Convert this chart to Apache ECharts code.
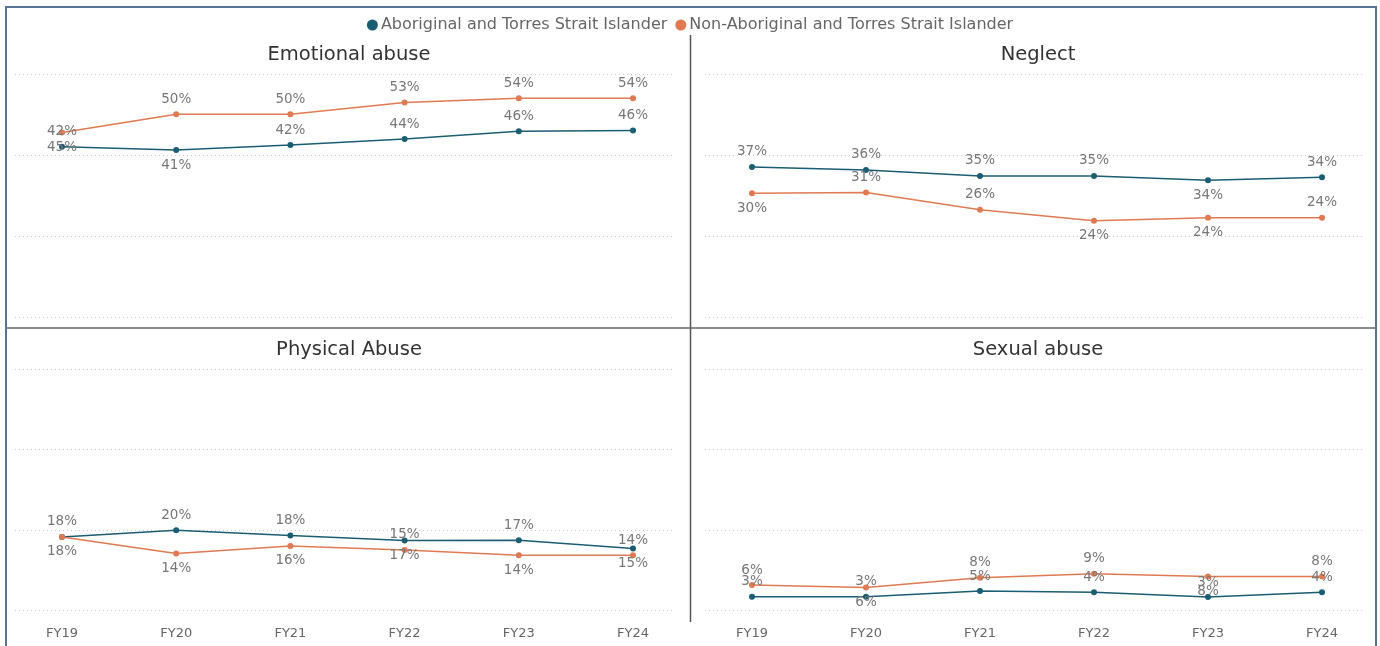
<!DOCTYPE html>
<html>
<head>
<meta charset="utf-8">
<script src="https://cdn.jsdelivr.net/npm/echarts@6/dist/echarts.min.js"></script>
<style>
  html, body { margin: 0; padding: 0; background: #ffffff; }
  #chart { width: 1380px; height: 646px; }
</style>
</head>
<body>
<div id="chart"></div>
<script>
// Financial years on the shared category axis
const years = ['FY19', 'FY20', 'FY21', 'FY22', 'FY23', 'FY24'];
const abuseTypes = ['Emotional abuse', 'Neglect', 'Physical Abuse', 'Sexual abuse'];
const cohorts = ['Aboriginal and Torres Strait Islander', 'Non-Aboriginal and Torres Strait Islander'];

// Substantiated cases per abuse type (hidden count axis, 0 to 3000)
const aboriginalEmotional = [2106, 2066, 2127, 2201, 2296, 2308];
const aboriginalNeglect   = [1857, 1820, 1746, 1746, 1693, 1730];
const aboriginalPhysical  = [911, 994, 928, 866, 870, 766];
const aboriginalSexual    = [165, 165, 236, 220, 161, 220];

const nonAboriginalEmotional = [2283, 2508, 2508, 2652, 2705, 2705];
const nonAboriginalNeglect   = [1533, 1541, 1328, 1193, 1230, 1230];
const nonAboriginalPhysical  = [911, 704, 799, 749, 683, 683];
const nonAboriginalSexual    = [311, 282, 401, 451, 419, 419];

const countMax = 3000;
const countStep = 1000;

// ---- derived structures ----
const cohortData = [
  [aboriginalEmotional, aboriginalNeglect, aboriginalPhysical, aboriginalSexual],
  [nonAboriginalEmotional, nonAboriginalNeglect, nonAboriginalPhysical, nonAboriginalSexual]
];
// yearly total per cohort, so each label shows that type's share of the year
const cohortTotals = cohortData.map(types =>
  years.map((_, i) => types.reduce((s, arr) => s + arr[i], 0))
);

// ---- layout ----
const FONT = 'DejaVu Sans';
const colors = ['#1b5d72', '#e07a52'];
// where each value label sits relative to its point: [cohort][panel][year]
const labelSide = [
  [ // Aboriginal
    ['top', 'bottom', 'top', 'top', 'top', 'top'],
    ['top', 'top', 'top', 'top', 'bottom', 'top'],
    ['top', 'top', 'top', 'bottom', 'top', 'bottom'],
    ['top', 'top', 'top', 'top', 'top', 'top']
  ],
  [ // Non-Aboriginal
    ['bottom', 'top', 'top', 'top', 'top', 'top'],
    ['bottom', 'top', 'top', 'bottom', 'bottom', 'top'],
    ['bottom', 'bottom', 'bottom', 'top', 'bottom', 'top'],
    ['top', 'bottom', 'top', 'top', 'bottom', 'top']
  ]
];
const panels = [
  { plotLeft: 62,  plotWidth: 571, gridLeft: 15,  gridWidth: 658, top: 74.3,  height: 243.2, cx: 344,  titleTop: 40,  xLabels: false },
  { plotLeft: 752, plotWidth: 570, gridLeft: 705, gridWidth: 657, top: 74.3,  height: 243.2, cx: 1033, titleTop: 40,  xLabels: false },
  { plotLeft: 62,  plotWidth: 571, gridLeft: 15,  gridWidth: 658, top: 369.5, height: 240.5, cx: 344,  titleTop: 335, xLabels: true },
  { plotLeft: 752, plotWidth: 570, gridLeft: 705, gridWidth: 657, top: 369.5, height: 240.5, cx: 1033, titleTop: 335, xLabels: true }
];

const grids = [], xAxes = [], yAxes = [], series = [], titles = [];

panels.forEach((p, k) => {
  // background grid carrying the dotted gridlines
  grids.push({ left: p.gridLeft, top: p.top, width: p.gridWidth, height: p.height });
  xAxes.push({ gridIndex: grids.length - 1, type: 'value', min: 0, max: 1, show: false });
  yAxes.push({
    gridIndex: grids.length - 1, type: 'value', min: 0, max: countMax, interval: countStep,
    axisLine: { show: false }, axisTick: { show: false }, axisLabel: { show: false },
    splitLine: { show: true, lineStyle: { color: '#c9c9c9', width: 1, type: [1, 3] } }
  });
  // plotting grid for the lines
  grids.push({ left: p.plotLeft, top: p.top, width: p.plotWidth, height: p.height });
  const gi = grids.length - 1;
  xAxes.push({
    gridIndex: gi, type: 'category', data: years, boundaryGap: false,
    axisLine: { show: false }, axisTick: { show: false }, splitLine: { show: false },
    axisLabel: { show: p.xLabels, color: '#666', fontSize: 13, fontFamily: FONT, margin: 17 }
  });
  yAxes.push({ gridIndex: gi, type: 'value', min: 0, max: countMax, interval: countStep, show: false, splitLine: { show: false } });

  titles.push({
    text: abuseTypes[k], left: p.cx, top: p.titleTop, textAlign: 'center',
    textStyle: { color: '#333', fontSize: 19.5, fontWeight: 'normal', fontFamily: FONT }
  });

  cohorts.forEach((name, c) => {
    const values = cohortData[c][k];
    series.push({
      name: name,
      type: 'line',
      xAxisIndex: xAxes.length - 1,
      yAxisIndex: yAxes.length - 1,
      symbol: 'circle',
      symbolSize: 6,
      color: colors[c],
      lineStyle: { width: 1.5, color: colors[c] },
      label: {
        show: true, distance: 5, color: '#777', fontSize: 13.5, fontFamily: FONT,
        formatter: (d) => Math.round(100 * d.value / cohortTotals[c][d.dataIndex]) + '%'
      },
      emphasis: { disabled: true },
      animation: false,
      data: values.map((v, i) => ({ value: v, label: { position: labelSide[c][k][i] } }))
    });
  });
});

const chart = echarts.init(document.getElementById('chart'), null, { renderer: 'canvas' });
chart.setOption({
  backgroundColor: '#ffffff',
  animation: false,
  title: titles,
  legend: {
    data: cohorts, left: 'center', top: 12, icon: 'circle',
    itemWidth: 11, itemHeight: 11, itemGap: 8,
    textStyle: { color: '#666', fontSize: 16, fontFamily: FONT, padding: [0, 0, 0, -2] }
  },
  grid: grids,
  xAxis: xAxes,
  yAxis: yAxes,
  series: series,
  graphic: [
    // outer frame
    { type: 'rect', shape: { x: 6, y: 7, width: 1370, height: 680 }, style: { fill: null, stroke: '#5d7394', lineWidth: 2 }, silent: true },
    // panel dividers
    { type: 'line', shape: { x1: 690.5, y1: 35, x2: 690.5, y2: 622 }, style: { stroke: '#555', lineWidth: 1.5 }, silent: true },
    { type: 'line', shape: { x1: 7, y1: 328, x2: 1375, y2: 328 }, style: { stroke: '#666', lineWidth: 1.5 }, silent: true }
  ]
});
</script>
</body>
</html>
